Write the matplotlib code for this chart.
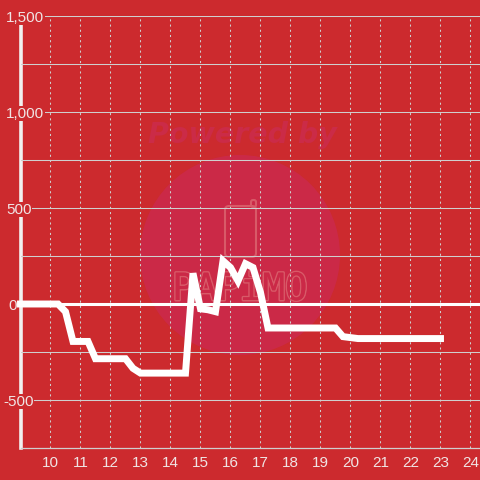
import matplotlib
matplotlib.use('Agg')
import matplotlib.pyplot as plt
from matplotlib.patches import Circle, FancyBboxPatch
from matplotlib.ticker import FixedLocator
import matplotlib.patheffects as pe

hours = [9, 9.25, 9.5, 9.75, 10, 10.25, 10.5, 10.75, 11, 11.25, 11.5, 11.75, 12, 12.25, 12.5, 12.75,
         13, 13.25, 13.5, 13.75, 14, 14.25, 14.5, 14.75, 15, 15.25, 15.5, 15.75, 16, 16.25, 16.5, 16.75,
         17, 17.25, 17.5, 17.75, 18, 18.25, 18.5, 18.75, 19, 19.25, 19.5, 19.75, 20, 20.25, 20.5, 20.75,
         21, 21.25, 21.5, 21.75, 22, 22.25, 22.5, 22.75, 23]
values = [0, 0, 0, 0, 0, 0, -40, -195, -195, -195, -285, -285, -285, -285, -285, -335,
          -360, -360, -360, -360, -360, -360, -360, 160, -25, -30, -40, 225, 190, 120, 210, 190,
          60, -125, -125, -125, -125, -125, -125, -125, -125, -125, -125, -170, -175, -180, -180, -180,
          -180, -180, -180, -180, -180, -180, -180, -180, -180]
x_ticks = list(range(10, 25))
y_major = [-500, 0, 500, 1000, 1500]
y_minor = [-250, 250, 750, 1250]
y_labels = ['-500', '0', '500', '1,000', '1,500']
y_label_left_px = [3, 8, 6, 6, 6]

BG = '#cc2a2e'
GRID = '#cfcfcf'
TXT = '#f0e4e4'
W = H = 480

plt.rcParams['font.family'] = ['Liberation Sans', 'DejaVu Sans']
fig = plt.figure(figsize=(4.8, 4.8), dpi=100, facecolor=BG)
ax = fig.add_axes([20.5 / W, 1 - 448 / H, 459.5 / W, 432 / H])
ax.patch.set_visible(False)
ax.set_xlim(9, 24.317)
ax.set_ylim(-750, 1500)

def fx(px):
    return px / W

def fy(py):
    return 1 - py / H

# watermark
fig.add_artist(Circle((240, H - 255), 100, transform=None, facecolor='#cb2947', edgecolor='none', zorder=-3))
fig.text(fx(242), fy(135), 'Powered by', fontsize=20.5, fontweight='bold', style='italic',
         family='DejaVu Sans', color='#cb2b47', ha='center', va='center', zorder=-2)
fig.add_artist(FancyBboxPatch((226, H - 256), 29, 49, boxstyle='round,pad=1,rounding_size=4', transform=None,
                              facecolor='none', edgecolor='#d85a68', linewidth=1.5, zorder=-2))
fig.add_artist(FancyBboxPatch((252, H - 206), 3, 5, boxstyle='round,pad=1,rounding_size=2', transform=None,
                              facecolor='none', edgecolor='#d85a68', linewidth=1.5, zorder=-2))
fig.text(fx(240), fy(290), 'PAPiMO', fontsize=27, family='DejaVu Sans Mono', color='#cb2947',
         ha='center', va='center', zorder=-2,
         path_effects=[pe.withStroke(linewidth=2.2, foreground='#d85a68'),
                       pe.Normal()])

# axes and grid
ax.set_xticks(x_ticks)
ax.set_yticks(y_major)
ax.set_yticklabels(y_labels)
ax.yaxis.set_minor_locator(FixedLocator(y_minor))
ax.set_axisbelow(True)
ax.grid(True, axis='x', color=GRID, linewidth=0.75, linestyle=(0, (2, 3)))
ax.grid(True, axis='y', which='both', color=GRID, linewidth=0.75, linestyle='-')
ax.tick_params(axis='both', which='both', length=0, labelcolor=TXT, labelsize=11)
ax.tick_params(axis='x', pad=6)
ax.tick_params(axis='y', pad=0)
for lab, left_px in zip(ax.get_yticklabels(), y_label_left_px):
    lab.set_x((left_px - 20.5) / 459.5)
    lab.set_ha('left')
    lab.set_bbox(dict(facecolor=BG, edgecolor='none', pad=0.5))

for s in ('top', 'right'):
    ax.spines[s].set_visible(False)
ax.spines['left'].set_color('#f2f0f0')
ax.spines['left'].set_linewidth(2.6)
ax.spines['left'].set_zorder(0.3)
ax.spines['bottom'].set_color(GRID)
ax.spines['bottom'].set_linewidth(0.9)
ax.spines['bottom'].set_zorder(0.3)

ax.axhline(0, color='white', linewidth=2.2, zorder=2)
ax.plot(hours, values, color='white', linewidth=5.0, solid_joinstyle='miter',
        solid_capstyle='projecting', clip_on=False, zorder=5)

fig.savefig('out.png', dpi=100, facecolor=BG)
